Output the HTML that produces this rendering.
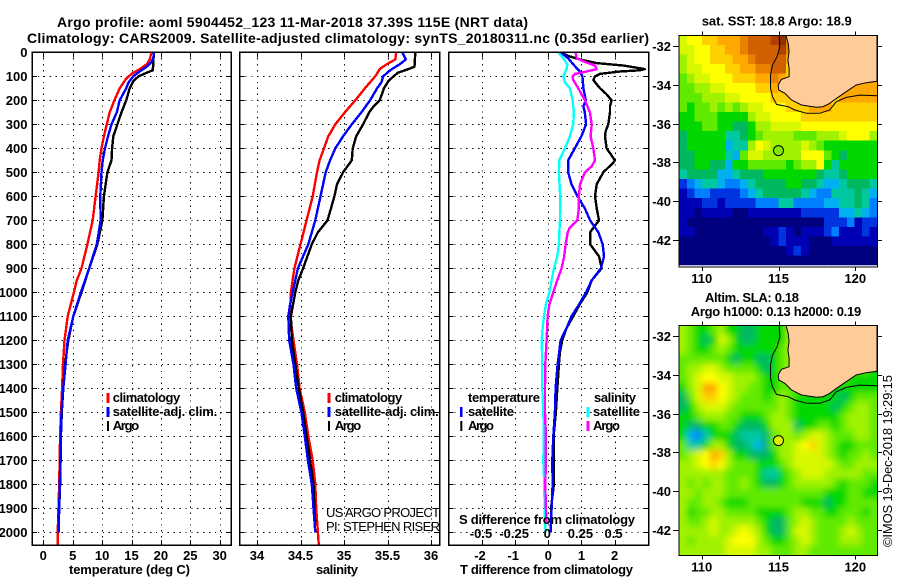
<!DOCTYPE html>
<html lang="en">
<head>
<meta charset="utf-8">
<title>Argo profile 5904452_123</title>
<style>
html,body{margin:0;padding:0;background:#fff;}
svg{display:block;}
text{font-family:"Liberation Sans",sans-serif;fill:#000;font-weight:bold;font-size:13px;}
text.thin{font-weight:normal;}
</style>
</head>
<body>
<svg id="chart" xmlns="http://www.w3.org/2000/svg" width="900" height="580" viewBox="0 0 900 580">
<rect x="0" y="0" width="900" height="580" fill="#fff"/>
<defs>
<clipPath id="clipMap1"><rect x="679.3" y="35.3" width="198" height="230"/></clipPath>
<clipPath id="clipMap2"><rect x="679.3" y="325.3" width="198" height="230"/></clipPath>
<filter id="smoothSla" filterUnits="userSpaceOnUse" x="650" y="300" width="250" height="280"><feGaussianBlur stdDeviation="3.2"/></filter>
</defs>
<g id="gMarks"></g>
<text x="57" y="27" textLength="471" lengthAdjust="spacing" style="font-size:14px">Argo profile: aoml 5904452_123 11-Mar-2018 37.39S 115E (NRT data)</text>
<text x="27" y="43" textLength="622" lengthAdjust="spacing" style="font-size:14px">Climatology: CARS2009. Satellite-adjusted climatology: synTS_20180311.nc (0.35d earlier)</text>
<text x="69" y="574" textLength="121" lengthAdjust="spacing">temperature (deg C)</text>
<text x="316" y="574" textLength="42" lengthAdjust="spacing">salinity</text>
<text x="460" y="574" textLength="173" lengthAdjust="spacing">T difference from climatology</text>
<text x="459" y="524" textLength="176" lengthAdjust="spacing">S difference from climatology</text>
<g>
<rect x="106.5" y="393" width="3" height="10" fill="#f00"/><rect x="106.5" y="407" width="3" height="10" fill="#00f"/><rect x="107" y="421" width="2" height="10" fill="#000"/>
<text x="112.7" y="402" textLength="67.5" lengthAdjust="spacing">climatology</text>
<text x="112.7" y="416" textLength="104.5" lengthAdjust="spacing">satellite-adj. clim.</text>
<text x="112.7" y="430" textLength="26.5" lengthAdjust="spacing">Argo</text>
</g>
<g>
<rect x="327.5" y="393" width="3" height="10" fill="#f00"/><rect x="327.5" y="407" width="3" height="10" fill="#00f"/><rect x="328" y="421" width="2" height="10" fill="#000"/>
<text x="334.7" y="402" textLength="67.5" lengthAdjust="spacing">climatology</text>
<text x="334.7" y="416" textLength="104" lengthAdjust="spacing">satellite-adj. clim.</text>
<text x="334.7" y="430" textLength="26.5" lengthAdjust="spacing">Argo</text>
</g>
<g>
<text x="468" y="402" textLength="72" lengthAdjust="spacing">temperature</text>
<text x="468" y="416" textLength="46" lengthAdjust="spacing">satellite</text>
<text x="468" y="430" textLength="26" lengthAdjust="spacing">Argo</text>
<rect x="460" y="407" width="2.5" height="10" fill="#00f"/><rect x="460.3" y="421" width="2" height="10" fill="#000"/>
<text x="594" y="402" textLength="42" lengthAdjust="spacing">salinity</text>
<text x="593" y="416" textLength="47" lengthAdjust="spacing">satellite</text>
<text x="593" y="430" textLength="27" lengthAdjust="spacing">Argo</text>
<rect x="586.5" y="407" width="3" height="10" fill="#0ff"/><rect x="586.5" y="421" width="3" height="10" fill="#f0f"/>
</g>
<text class="thin" x="326" y="517" textLength="114" lengthAdjust="spacing">US ARGO PROJECT</text>
<text class="thin" x="326" y="531" textLength="114" lengthAdjust="spacing">PI: STEPHEN RISER</text>
<text x="701.7" y="25.5" textLength="150" lengthAdjust="spacing">sat. SST: 18.8 Argo: 18.9</text>
<text x="705" y="302" textLength="94" lengthAdjust="spacing">Altim. SLA: 0.18</text>
<text x="690.7" y="316" textLength="170.5" lengthAdjust="spacing">Argo h1000: 0.13 h2000: 0.19</text>
<text class="thin" transform="translate(892,547) rotate(-90)" textLength="172" lengthAdjust="spacing">©IMOS 19-Dec-2018 19:29:15</text>
</svg>
<script>
// ---- axis ticks ----
const depthTicks = [0,100,200,300,400,500,600,700,800,900,1000,1100,1200,1300,1400,1500,1600,1700,1800,1900,2000];
const tempTicks = [0,5,10,15,20,25,30];
const salTicks = [34,34.5,35,35.5,36];
const salTickLabels = ['34','34.5','35','35.5','36'];
const diffTTicks = [-2,-1,0,1,2];
const diffSTicks = [-0.5,-0.25,0,0.25,0.5];
const diffSTickLabels = ['-0.5','-0.25','0','0.25','0.5'];
const lonTicks = [110,115,120];
const latTicks = [-32,-34,-36,-38,-40,-42];

// ---- temperature panel ----
const tempDepthArgo = [0,50,75,85,100,120,150,200,250,300,350,400,450,500,600,700,800,900,1000,1100,1200,1300,1400,1500,1600,1700,1800,1900,1960];
const tempArgo = [18.8,18.7,18.6,17.6,16.2,15.3,14.7,14.1,13.3,12.6,11.9,11.7,11.6,10.9,10.3,10.05,9.2,7.8,6.5,5.1,4.26,3.7,3.4,3.15,3.0,2.95,2.85,2.7,2.6];
const tempDepthSat = [0,25,40,60,80,100,125,150,200,250,300,350,400,450,500,600,700,800,900,1000,1100,1200,1300,1400,1500,1700,1900,2000];
const tempSat = [18.8,18.7,18.4,17.6,16.4,15.3,14.5,14.1,13,12.5,11.6,11,10.5,10.1,9.9,9.7,9.75,9.1,7.8,6.4,5.1,4.15,3.8,3.4,3.1,2.9,2.7,2.6];
const tempDepthClim = [0,30,50,70,90,110,150,200,250,300,350,400,450,500,600,700,800,900,950,1000,1100,1200,1300,1400,1500,1600,1800,2000,2054];
const tempClim = [18.4,18.1,17.6,16.4,15,14.1,13,12.1,11.3,10.8,10.3,9.9,9.6,9.4,8.9,8.4,7.5,6.5,5.7,5.2,4.15,3.6,3.35,3.2,3,2.85,2.7,2.45,2.45];

// ---- salinity panel ----
const salDepthArgo = [0,60,70,85,100,120,150,200,225,250,300,350,400,450,500,550,600,650,700,750,800,900,950,1000,1100,1200,1300,1400,1500,1600,1700,1800,1900,1960];
const salArgo = [35.82,35.81,35.74,35.62,35.57,35.51,35.46,35.41,35.34,35.29,35.22,35.14,35.1,35.09,34.99,34.92,34.89,34.85,34.81,34.7,34.63,34.53,34.475,34.44,34.39,34.4,34.44,34.48,34.53,34.57,34.61,34.65,34.66,34.67];
const salDepthSat = [0,30,50,75,100,125,150,200,250,300,350,400,450,500,550,600,650,700,800,900,1000,1050,1100,1200,1300,1400,1500,1600,1700,1800,1900,2000];
const salSat = [35.67,35.71,35.64,35.53,35.45,35.43,35.38,35.3,35.2,35.09,34.99,34.9,34.84,34.79,34.76,34.73,34.7,34.67,34.59,34.47,34.41,34.38,34.36,34.37,34.42,34.45,34.51,34.55,34.585,34.63,34.65,34.67];
const salDepthClim = [0,30,50,70,100,150,200,250,300,350,400,450,500,600,700,800,900,1000,1100,1200,1300,1400,1500,1600,1700,1800,1900,2000,2054];
const salClim = [35.6,35.59,35.49,35.41,35.36,35.24,35.13,35.01,34.9,34.82,34.77,34.72,34.69,34.64,34.57,34.5,34.43,34.39,34.38,34.42,34.46,34.49,34.55,34.59,34.64,34.67,34.68,34.7,34.71];

// ---- difference panel ----
const dTDepthArgo = [0,15,30,45,55,70,75,80,90,100,115,130,150,175,200,225,250,300,330,350,400,450,460,500,550,600,650,700,750,800,850,900,950,1000,1050,1100,1150,1200,1250,1300,1350,1400,1500,1600,1700,1800,1900,1960];
const dTArgo = [0.35,0.6,0.95,1.46,2.26,2.91,2.76,2.16,1.56,1.41,1.36,1.44,1.56,1.76,1.91,1.86,1.86,1.81,1.73,1.71,1.76,2.01,1.96,1.66,1.46,1.41,1.46,1.53,1.26,1.26,1.53,1.61,1.31,1.18,0.95,0.75,0.55,0.42,0.35,0.32,0.3,0.27,0.23,0.16,0.17,0.17,0.08,0.08];
const dTDepthSat = [0,25,50,80,100,150,200,225,250,300,350,400,450,500,550,600,650,700,750,800,850,900,950,1000,1050,1100,1150,1200,1250,1300,1350,1400,1500,1600,1700,1800,1900,2000];
const dTSat = [0.37,0.6,0.75,0.95,1.03,1.06,1.13,1.06,1.1,1.14,1,0.8,0.6,0.6,0.7,0.88,1.1,1.26,1.51,1.64,1.68,1.59,1.31,1.14,0.93,0.7,0.55,0.37,0.33,0.28,0.25,0.22,0.2,0.15,0.12,0.13,0.1,0.07];
const dSDepthSat = [0,25,50,70,100,125,150,200,250,300,350,400,450,500,600,700,750,800,850,900,950,1000,1050,1100,1150,1200,1300,1400,1500,1600,1700,1800,1900,2000];
const dSSat = [0.075,0.113,0.143,0.138,0.113,0.126,0.163,0.183,0.193,0.188,0.163,0.126,0.083,0.08,0.09,0.088,0.083,0.08,0.068,0.043,0.025,0.008,-0.018,-0.033,-0.043,-0.05,-0.045,-0.045,-0.038,-0.033,-0.038,-0.03,-0.028,-0.02];
const dSDepthArgo = [0,25,40,55,70,80,90,100,115,150,200,250,300,350,400,450,475,500,550,600,650,700,730,750,800,850,900,950,1000,1050,1100,1200,1300,1400,1500,1600,1700,1800,1900,1960];
const dSArgo = [0.206,0.214,0.276,0.352,0.364,0.289,0.201,0.183,0.188,0.226,0.276,0.314,0.327,0.319,0.339,0.352,0.327,0.276,0.239,0.231,0.231,0.219,0.163,0.146,0.131,0.12,0.1,0.068,0.038,0.008,-0.005,-0.013,-0.023,-0.025,-0.025,-0.018,-0.018,-0.023,-0.018,-0.013];

// ---- map colour levels ----
const levelColors = ['#00007f','#0000b4','#0034e0','#0080ff','#00b0f0','#00c8a0','#00b860','#00d800','#60ea00','#a0f200','#d8f800','#ffff00','#ffd000','#ffa800','#e88000','#d06000','#b04000','#903000'];
const sstLevels = [
[10,11,11,12,12,13,13,13,14,15,15,15,16,17,14,13,13,13,13,13,13,13,13,13,13,13],
[10,10,11,11,12,12,13,13,14,15,15,15,15,16,14,13,13,13,13,13,13,13,13,13,13,13],
[9,10,11,11,12,12,12,13,13,14,15,15,15,15,13,13,13,13,13,13,13,13,13,13,13,13],
[9,10,10,11,11,11,12,12,13,13,14,14,15,15,12,13,13,13,13,13,13,13,13,13,13,13],
[8,9,10,10,11,11,11,12,12,12,13,13,14,13,12,13,13,13,13,13,13,13,13,13,13,13],
[8,8,9,9,10,10,11,11,11,11,12,12,13,12,12,11,13,13,13,13,13,13,13,13,13,13],
[8,8,8,9,9,9,10,10,11,11,11,11,12,12,12,12,13,13,13,13,12,13,13,13,13,13],
[8,7,8,8,9,8,9,8,9,10,10,11,11,11,12,12,12,13,13,13,12,12,12,12,12,12],
[7,7,8,8,8,7,7,7,7,9,10,10,11,11,11,11,12,12,12,12,12,12,12,12,12,12],
[7,7,7,8,8,7,7,6,6,7,9,9,10,10,10,10,11,11,11,11,11,11,11,11,11,11],
[6,7,7,7,7,7,5,5,6,7,8,9,9,9,9,8,8,8,9,9,9,10,11,11,11,9],
[6,7,7,7,7,7,4,5,5,9,11,10,9,9,9,9,10,9,8,7,7,7,7,7,7,7],
[6,6,7,7,7,7,5,4,8,10,10,9,9,9,9,9,11,11,11,8,7,6,7,7,7,7],
[6,6,7,7,6,6,4,7,7,8,8,8,8,8,7,8,9,9,11,7,5,7,7,7,7,7],
[5,6,6,6,6,4,4,5,6,6,6,7,7,7,7,7,7,7,6,5,5,6,7,7,7,7],
[2,3,4,5,5,4,3,3,4,5,6,6,6,6,7,7,6,6,5,4,4,5,6,6,6,5],
[1,2,3,3,2,2,2,2,3,4,5,6,6,6,6,6,5,4,3,3,5,5,5,6,5,4],
[1,1,1,2,2,1,2,2,2,2,3,3,3,5,5,3,3,3,3,4,4,5,5,6,5,3],
[1,1,0,1,1,1,1,0,0,1,1,1,1,1,1,1,2,2,2,2,2,4,4,5,4,3],
[1,0,0,0,0,0,0,0,0,0,0,0,0,0,0,0,0,0,0,2,2,2,3,1,2,2],
[1,1,0,0,0,0,0,0,0,0,0,1,1,2,1,0,1,1,1,2,3,1,1,1,2,1],
[0,0,0,0,0,0,0,0,0,0,0,0,1,2,1,1,1,0,0,0,1,1,1,1,1,1],
[0,0,0,0,0,0,0,0,0,0,0,0,0,0,1,2,1,0,0,0,0,0,0,0,0,0],
[0,0,0,0,0,0,0,0,0,0,0,0,0,0,0,0,0,0,0,0,0,0,0,0,0,0]
];
const slaLevels = [
[9,8,7,7,8,9,7,7,6,6,7,7,7,7,9,8,8,8,8,8,8,8,8,8,8,8],
[9,8,7,6,7,10,9,7,6,6,7,7,7,7,9,8,8,8,8,8,8,8,8,8,8,8],
[9,8,7,7,8,9,8,7,7,7,7,7,7,8,9,8,8,8,8,8,8,8,8,8,8,8],
[8,8,8,8,8,8,7,6,7,7,6,6,7,8,9,8,8,8,8,8,8,8,8,8,8,8],
[8,9,9,10,10,9,8,8,8,8,7,6,7,8,9,8,8,8,8,8,8,8,8,8,8,7],
[8,9,10,11,11,10,10,9,9,9,8,7,7,8,8,8,8,8,8,8,8,8,7,7,7,7],
[7,9,10,13,13,11,10,9,9,8,8,7,7,8,8,8,8,7,7,7,7,7,7,7,7,7],
[6,8,10,12,12,11,10,9,8,8,8,7,8,9,8,7,7,7,7,7,7,6,7,8,8,8],
[6,7,9,10,10,10,9,8,8,8,8,8,8,9,8,7,7,7,7,7,6,7,8,9,9,8],
[7,7,8,9,9,9,8,8,7,7,7,8,9,9,8,7,7,7,7,7,7,8,9,9,9,8],
[7,6,6,7,7,8,8,7,6,6,6,7,9,9,9,6,7,7,8,8,7,8,9,9,9,8],
[7,4,3,5,7,7,7,6,5,5,5,6,8,9,9,8,9,10,10,9,8,8,8,9,9,8],
[8,5,5,7,9,9,7,6,6,5,4,6,8,9,9,10,11,12,10,9,8,7,7,8,8,8],
[8,9,10,11,13,12,9,7,7,6,6,6,7,9,9,10,10,10,10,9,8,7,8,8,9,8],
[9,9,10,11,12,11,9,8,8,8,7,7,7,8,9,10,10,10,10,10,9,8,8,9,9,9],
[9,9,9,9,9,9,8,8,8,8,7,5,5,7,8,9,10,10,10,9,9,9,9,9,8,8],
[9,8,9,8,9,9,8,8,9,8,7,6,6,7,8,9,9,9,9,9,8,7,8,8,8,7],
[9,9,8,9,9,9,8,8,8,8,8,8,8,8,8,8,8,8,8,7,7,7,8,8,7,7],
[9,8,8,9,9,8,7,7,7,8,8,8,8,8,8,8,7,7,7,6,7,7,8,8,8,8],
[9,7,8,8,9,9,8,8,8,8,7,7,7,7,8,9,9,8,8,7,7,8,8,8,7,8],
[9,8,8,9,10,9,9,9,9,9,8,7,6,6,8,9,10,9,8,8,8,8,9,8,8,8],
[9,9,9,9,10,9,9,10,11,10,9,7,6,6,8,10,10,9,8,8,8,9,10,9,8,8],
[9,8,9,9,9,9,10,11,11,11,9,8,7,7,8,9,10,9,8,8,8,9,9,9,8,8],
[9,9,9,9,9,9,10,10,10,10,9,9,8,8,8,9,9,8,8,8,8,8,8,8,8,8]
];

// ---- geography (lon/lat) ----
const landLon = [115.48,115.63,115.69,115.61,115.69,115.69,115.19,114.98,115.02,115.41,115.84,116.49,117.47,117.9,118.33,118.77,119.42,120.06,120.71,121.41,121.41];
const landLat = [-31.45,-31.86,-32.29,-32.72,-33.15,-33.58,-33.72,-34.01,-34.27,-34.44,-34.78,-35.04,-35.16,-35.13,-34.96,-34.7,-34.35,-34.01,-33.89,-33.82,-31.45];
const isoLon = [115.04,115.09,114.91,114.61,114.48,114.48,114.61,114.87,115.63,116.06,116.82,117.68,118.33,118.77,119.42,120.28,121.41];
const isoLat = [-31.45,-32.03,-32.55,-32.98,-33.49,-34.18,-34.61,-35.01,-35.13,-35.3,-35.47,-35.47,-35.3,-34.87,-34.65,-34.53,-34.56];
const floatLon = 115;
const floatLat = -37.39;

// ---- scales ----
const yD = d => 52.3 + 0.24 * d;
const xTemp = v => 43.3 + 5.88 * v;
const xSal = v => 257 + 87 * (v - 34);
const xDT = v => 548.3 + 33.15 * v;
const xDS = v => 548.3 + 132.6 * v;
const xLon = v => 701.7 + 15.36 * (v - 110);
const yLat1 = v => 46 - 19.4 * (v + 32);
const yLat2 = v => 336 - 19.4 * (v + 32);

const NS = 'http://www.w3.org/2000/svg';
const root = document.getElementById('gMarks');
function mk(parent, tag, attrs, name) {
  const el = document.createElementNS(NS, tag);
  for (const k in attrs) el.setAttribute(k, attrs[k]);
  
  
  parent.appendChild(el);
  return el;
}
function label(parent, x, y, str, anchor, name) {
  const t = mk(parent, 'text', {x: x, y: y, 'text-anchor': anchor}, name);
  t.textContent = str;
  return t;
}
const CRISP = 'crispEdges';

function panel(name, L, R, xTicks, xFn) {
  const T = 52.3, B = 545;
  const g = mk(root, 'g', {}, name);
  depthTicks.forEach(d => {
    mk(g, 'line', {x1: L, x2: R, y1: Math.round(yD(d)) + .5, y2: Math.round(yD(d)) + .5, stroke: '#000', 'stroke-dasharray': '1.3 4.6', 'shape-rendering': CRISP}, 'depth-gridline');
    mk(g, 'line', {x1: L, x2: L + 5, y1: Math.round(yD(d)) + .5, y2: Math.round(yD(d)) + .5, stroke: '#000', 'shape-rendering': CRISP}, 'depth-tick-left');
    mk(g, 'line', {x1: R - 5, x2: R, y1: Math.round(yD(d)) + .5, y2: Math.round(yD(d)) + .5, stroke: '#000', 'shape-rendering': CRISP}, 'depth-tick-right');
  });
  xTicks.forEach(v => {
    const x = Math.round(xFn(v)) + .5;
    mk(g, 'line', {x1: x, x2: x, y1: T, y2: B, stroke: '#000', 'stroke-dasharray': '1.3 4.6', 'shape-rendering': CRISP}, 'x-gridline');
    mk(g, 'line', {x1: x, x2: x, y1: T, y2: T + 5, stroke: '#000', 'shape-rendering': CRISP}, 'x-tick-top');
    mk(g, 'line', {x1: x, x2: x, y1: B - 5, y2: B, stroke: '#000', 'shape-rendering': CRISP}, 'x-tick-bottom');
  });
  return g;
}
function frame(g, L, R) {
  mk(g, 'rect', {x: L, y: 52, width: R - L, height: 493, fill: 'none', stroke: '#000', 'stroke-width': 1.5, 'shape-rendering': CRISP}, 'panel-frame');
}
function series(g, xs, depths, xFn, color, width, name) {
  const pts = xs.map((v, i) => xFn(v).toFixed(1) + ',' + yD(depths[i]).toFixed(1)).join(' ');
  mk(g, 'polyline', {points: pts, fill: 'none', stroke: color, 'stroke-width': width, 'stroke-linejoin': 'round', 'shape-rendering': CRISP}, name);
}
const LW = 2.4;

// temperature panel
const p1 = panel('temperature-panel', 32, 231, tempTicks, xTemp);
series(p1, tempClim, tempDepthClim, xTemp, '#f00', LW, 'temperature-climatology-line');
series(p1, tempArgo, tempDepthArgo, xTemp, '#000', LW, 'temperature-argo-line');
series(p1, tempSat, tempDepthSat, xTemp, '#00f', LW, 'temperature-satellite-line');
frame(p1, 32, 231);
depthTicks.forEach(d => {
  label(p1, 27.5, yD(d) + 4.8, String(d), 'end', 'depth-tick-label');
});
tempTicks.forEach(v => {
  label(p1, xTemp(v), 560, String(v), 'middle', 'temperature-tick-label');
});

// salinity panel
const p2 = panel('salinity-panel', 239.5, 439.5, salTicks, xSal);
series(p2, salClim, salDepthClim, xSal, '#f00', LW, 'salinity-climatology-line');
series(p2, salArgo, salDepthArgo, xSal, '#000', LW, 'salinity-argo-line');
series(p2, salSat, salDepthSat, xSal, '#00f', LW, 'salinity-satellite-line');
frame(p2, 239.5, 439.5);
salTicks.forEach((v, i) => {
  label(p2, xSal(v), 560, salTickLabels[i], 'middle', 'salinity-tick-label');
});

// difference panel
const p3 = panel('difference-panel', 448.5, 648.5, diffTTicks, xDT);
series(p3, dTArgo, dTDepthArgo, xDT, '#000', LW, 'difference-t-argo-line');
series(p3, dTSat, dTDepthSat, xDT, '#00f', LW, 'difference-t-satellite-line');
series(p3, dSSat, dSDepthSat, xDS, '#0ff', LW, 'difference-s-satellite-line');
series(p3, dSArgo, dSDepthArgo, xDS, '#f0f', LW, 'difference-s-argo-line');
frame(p3, 448.5, 648.5);
diffTTicks.forEach(v => {
  label(p3, xDT(v) - (v < 0 ? 2 : 0), 560, String(v), 'middle', 't-difference-tick-label');
});
diffSTicks.forEach((v, i) => {
  label(p3, xDS(v) - 1, 538, diffSTickLabels[i], 'middle', 's-difference-tick-label');
});

// maps
function drawMap(name, levels, yLat, top, clipId, markerFill, heightPx, smooth) {
  const g = mk(root, 'g', {}, name);
  const clipG = mk(g, 'g', {'clip-path': 'url(#' + clipId + ')'}, name + '-area');
  const cells = mk(clipG, 'g', smooth ? {filter: 'url(#smoothSla)'} : {}, name + '-cells');
  const cols = levels[0].length, rows = levels.length;
  const cw = 198 / cols, ch = 230 / rows;
  const pad = smooth ? 12 : 0;
  levels.forEach((row, r) => {
    row.forEach((lv, c) => {
      const x0 = 679.3 + c * cw - (c === 0 ? pad : 0);
      const y0 = top + r * ch - (r === 0 ? pad : 0);
      const x1 = 679.3 + (c + 1) * cw + .4 + (c === cols - 1 ? pad : 0);
      const y1 = top + (r + 1) * ch + .4 + (r === rows - 1 ? pad : 0);
      mk(cells, 'rect', {x: x0.toFixed(2), y: y0.toFixed(2), width: (x1 - x0).toFixed(2), height: (y1 - y0).toFixed(2), fill: levelColors[lv], 'shape-rendering': CRISP}, 'map-cell');
    });
  });
  const landPts = landLon.map((v, i) => xLon(v).toFixed(1) + ',' + yLat(landLat[i]).toFixed(1)).join(' ');
  mk(clipG, 'polygon', {points: landPts, fill: '#ffcc99', stroke: '#000', 'stroke-width': 1}, 'land-australia');
  const isoPts = isoLon.map((v, i) => xLon(v).toFixed(1) + ',' + yLat(isoLat[i]).toFixed(1)).join(' ');
  mk(clipG, 'polyline', {points: isoPts, fill: 'none', stroke: '#000', 'stroke-width': 1}, 'shelf-isobath');
  mk(clipG, 'circle', {cx: xLon(floatLon), cy: yLat(floatLat), r: 5, fill: markerFill, stroke: '#000', 'stroke-width': 1}, 'float-position-marker');
  mk(g, 'rect', {x: 679, y: top, width: 198.5, height: heightPx, fill: 'none', stroke: '#000', 'shape-rendering': CRISP}, 'map-frame');
  const bottom = top + heightPx;
  lonTicks.forEach(v => {
    const x = Math.round(xLon(v)) + .5;
    mk(g, 'line', {x1: x, x2: x, y1: top - 4, y2: top, stroke: '#000', 'shape-rendering': CRISP}, 'map-lon-tick-top');
    mk(g, 'line', {x1: x, x2: x, y1: bottom, y2: bottom + 4, stroke: '#000', 'shape-rendering': CRISP}, 'map-lon-tick-bottom');
    label(g, xLon(v), bottom + 16, String(v), 'middle', 'map-lon-label');
  });
  latTicks.forEach(v => {
    const y = Math.round(yLat(v)) + .5;
    mk(g, 'line', {x1: 673, x2: 679, y1: y, y2: y, stroke: '#000', 'shape-rendering': CRISP}, 'map-lat-tick-left');
    mk(g, 'line', {x1: 877, x2: 882, y1: y, y2: y, stroke: '#000', 'shape-rendering': CRISP}, 'map-lat-tick-right');
    label(g, 671, y + 4.5, String(v), 'end', 'map-lat-label');
  });
}
drawMap('sst-map', sstLevels, yLat1, 35.3, 'clipMap1', '#80e800', 231.7, false);
drawMap('sla-map', slaLevels, yLat2, 325.3, 'clipMap2', '#d8f000', 230, true);
</script>
</body>
</html>
